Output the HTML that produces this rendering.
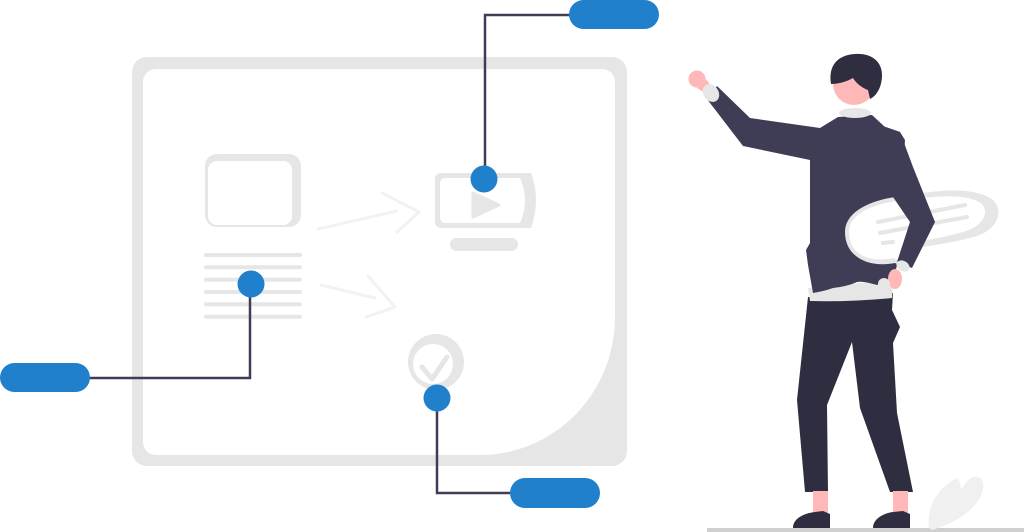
<!DOCTYPE html>
<html>
<head>
<meta charset="utf-8">
<style>
  html,body{margin:0;padding:0;background:#ffffff;}
  body{width:1024px;height:532px;overflow:hidden;}
  svg{display:block;}
</style>
</head>
<body>
<svg width="1024" height="532" viewBox="0 0 1024 532" xmlns="http://www.w3.org/2000/svg">
  <rect x="0" y="0" width="1024" height="532" fill="#ffffff"/>

  <!-- Panel -->
  <rect x="132" y="57" width="495" height="409" rx="15" fill="#e6e6e6"/>
  <path d="M156,69 H602 A13,13 0 0 1 615,82 V317 A135,138 0 0 1 480,455 H156 A13,13 0 0 1 143,442 V82 A13,13 0 0 1 156,69 Z" fill="#ffffff"/>

  <!-- Picture frame -->
  <rect x="205" y="154" width="96" height="73" rx="12" fill="#e6e6e6"/>
  <rect x="208" y="161" width="84" height="64" rx="9" fill="#ffffff"/>

  <!-- Text lines -->
  <g stroke="#e6e6e6" stroke-width="4" stroke-linecap="round">
    <line x1="206" y1="255" x2="300" y2="255"/>
    <line x1="206" y1="267.3" x2="300" y2="267.3"/>
    <line x1="206" y1="279.7" x2="300" y2="279.7"/>
    <line x1="206" y1="292" x2="300" y2="292"/>
    <line x1="206" y1="304.3" x2="300" y2="304.3"/>
    <line x1="206" y1="316.7" x2="300" y2="316.7"/>
  </g>

  <!-- Arrows -->
  <g stroke="#f2f2f2" stroke-width="3" fill="none" stroke-linecap="round" stroke-linejoin="round">
    <path d="M318,229 L397,211"/>
    <path d="M382,193 L419,212 L397,232"/>
    <path d="M321,285 Q350,292 375,298"/>
    <path d="M368,276 L395,307 L366,317"/>
  </g>

  <!-- Monitor -->
  <path d="M441,173 H531 Q541,200 531,228 H441 A6,6 0 0 1 435,222 V179 A6,6 0 0 1 441,173 Z" fill="#e6e6e6"/>
  <path d="M445,178 H520 Q530,200 520,223 H445 A5,5 0 0 1 440,218 V183 A5,5 0 0 1 445,178 Z" fill="#ffffff"/>
  <path d="M473,193 L499,205 L473,217 Z" fill="#e6e6e6" stroke="#e6e6e6" stroke-width="3" stroke-linejoin="round"/>
  <rect x="450" y="238" width="68" height="13" rx="6.5" fill="#e6e6e6"/>

  <!-- Check circle -->
  <circle cx="436" cy="362" r="28" fill="#e6e6e6"/>
  <circle cx="433" cy="364" r="20" fill="#ffffff"/>
  <polyline points="422,367 432,379 447,357" fill="none" stroke="#e6e6e6" stroke-width="5" stroke-linecap="round" stroke-linejoin="round"/>

  <!-- Connectors -->
  <g stroke="#3f3d56" stroke-width="2.5" fill="none">
    <path d="M485,179 V15 H572"/>
    <path d="M250,284 V378 H86"/>
    <path d="M437,398 V493 H514"/>
  </g>

  <!-- Pills -->
  <rect x="569" y="0" width="90" height="29" rx="14.5" fill="#2180cc"/>
  <rect x="0" y="363" width="90" height="29" rx="14.5" fill="#2180cc"/>
  <rect x="510" y="478" width="90" height="30" rx="15" fill="#2180cc"/>

  <!-- Dots -->
  <circle cx="484" cy="179" r="13.5" fill="#2180cc"/>
  <circle cx="251" cy="284" r="13.5" fill="#2180cc"/>
  <circle cx="437" cy="398" r="13.5" fill="#2180cc"/>

  <!-- Ground -->
  <rect x="707" y="528" width="317" height="4" fill="#d0d0d0"/>

  <!-- Leaf -->
  <path d="M929,528 C926,505 940,485 958,478 L962,490 C965,482 970,476 978,477 C988,480 983,498 972,508 C960,520 945,526 932,530 Z" fill="#f0f0f0"/>

  <!-- Person: pants -->
  <path d="M808,297 L893,293 L892,310 L900,327 L893,343 L897,413 L913,492 L890,492 L860,408 L852,342 L827,405 L828,492 L805,492 L797,400 Z" fill="#2f2e41"/>
  <!-- Ankles -->
  <rect x="813" y="491" width="15" height="24" fill="#ffb8b8"/>
  <rect x="893" y="491" width="15" height="24" fill="#ffb8b8"/>
  <!-- Shoes -->
  <path d="M793,528 C793,518 805,513 815,512 L823,511 L830,514 L830,528 Z" fill="#2f2e41"/>
  <path d="M873,528 C873,518 885,513 893,512 L903,511 L910,514 L910,528 Z" fill="#2f2e41"/>

  <!-- Hem shirt -->
  <path d="M808,288 L893,280 L892,298 Q850,302 810,301 Z" fill="#e6e6e6"/>

  <!-- Raised hand -->
  <circle cx="697" cy="79" r="8.5" fill="#ffb8b8"/>
  <ellipse cx="702" cy="84" rx="10" ry="6" transform="rotate(40 702 84)" fill="#ffb8b8"/>

  <!-- Torso + raised arm -->
  <path d="M707,99 L717,86 L750,118 L820,128 L838,117 L872,115 L885,127 L900,132 L905,140 L897,265 L893,283 C885,285 880,283 877,285 C870,283 862,281 857,282 C848,286 840,287 833,288 C825,291 818,292 813,293 L808,265 L806,250 L810,243 L810,160 L743,146 L710,103 Z" fill="#3f3d56"/>

  <!-- Wrist cuff left -->
  <ellipse cx="711" cy="93" rx="7.5" ry="9.5" transform="rotate(-35 711 93)" fill="#e6e6e6"/>

  <!-- Speech bubble -->
  <path d="M845,232 C845,210 875,198 905,196 C935,190 975,186 993,200 C1005,212 997,232 970,238 C950,243 930,246 915,248 L905,268 L895,263 C870,268 845,258 845,232 Z" fill="#e6e6e6"/>
  <path d="M849,232 C849,213 875,203 905,200 C935,196 968,193 982,204 C990,213 982,227 963,232 C945,237 928,240 912,243 L902,262 L893,258 C870,263 849,255 849,232 Z" fill="#ffffff"/>
  <g stroke="#e6e6e6" stroke-width="4" stroke-linecap="round">
    <line x1="878" y1="222" x2="965" y2="205"/>
    <line x1="880" y1="233" x2="967" y2="217"/>
    <line x1="883" y1="243" x2="893" y2="242"/>
  </g>

  <!-- Right arm -->
  <path d="M880,125 L900,132 L913,167 L935,222 L912,268 L897,262 L910,222 L893,197 Z" fill="#3f3d56"/>
  <!-- Right cuff & hand -->
  <ellipse cx="903" cy="266" rx="7" ry="5" transform="rotate(30 903 266)" fill="#e6e6e6"/>
  <ellipse cx="895" cy="279" rx="7" ry="10" fill="#ffb8b8"/>
  <circle cx="884" cy="284" r="6" fill="#e6e6e6"/>

  <!-- Collar -->
  <ellipse cx="855" cy="113" rx="16" ry="5" fill="#e6e6e6"/>

  <!-- Head -->
  <circle cx="854" cy="84" r="21" fill="#ffb8b8"/>
  <path d="M831,84 C828,65 838,55 855,54 C872,53 882,62 882,75 C882,85 878,95 870,99 L868,90 C862,88 856,83 853,78 C846,82 838,84 831,84 Z" fill="#2f2e41"/>
</svg>
</body>
</html>
